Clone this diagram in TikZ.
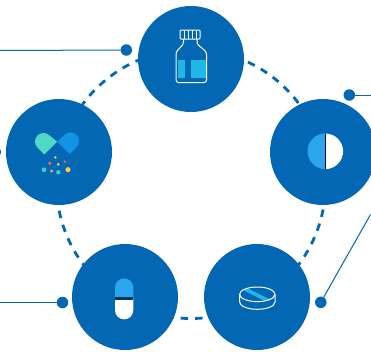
\documentclass[tikz,border=0pt]{standalone}
\definecolor{hub}{HTML}{0467B3}
\definecolor{sky}{HTML}{2AA5EE}
\definecolor{cyanfill}{HTML}{1FB8E6}
\definecolor{mint}{HTML}{4DD9C4}
\definecolor{heartblue}{HTML}{1493E6}
\definecolor{dotyellow}{HTML}{FFC94D}
\definecolor{dotred}{HTML}{F2664D}
\definecolor{dotteal}{HTML}{3CCFC0}
\tikzset{
  hubnode/.style={circle,fill=hub,minimum size=106pt,inner sep=0pt,outer sep=0pt},
  dotnode/.style={circle,fill=hub,minimum size=11.5pt,inner sep=0pt,outer sep=0pt},
  leader/.style={draw=hub,line width=1pt},
  ring/.style={draw=hub,line width=2.8pt,dash pattern=on 7.5pt off 7pt},
  icon/.style={draw=white,line width=1pt,line join=round},
}
\newcommand{\spk}[4]{\fill[#4] (#1,#2) circle (#3pt);}
\begin{document}
\begin{tikzpicture}[x=1pt,y=-1pt]
\useasboundingbox (0,0) rectangle (371,351);
\clip (0,0) rectangle (371,351);
\fill[white] (0,0) rectangle (371,351);
% ring
\draw[ring] (191,184) circle (134.5pt);
% hubs
\node[hubnode] (top) at (191,59) {};
\node[hubnode] (left) at (59,152) {};
\node[hubnode] (right) at (323,152) {};
\node[hubnode] (bl) at (125,297) {};
\node[hubnode] (br) at (257,297) {};
% dots and leaders
\node[dotnode] (d1) at (126.3,50) {};
\node[dotnode] (d2) at (349.3,95) {};
\node[dotnode] (d3) at (320.8,302.3) {};
\node[dotnode] (d4) at (62.5,302.5) {};
\node[dotnode] (d5) at (-4.8,152) {};
\coordinate (e1) at (-2,50.5);
\coordinate (e2) at (373,95);
\coordinate (e3) at (370.5,214.5);
\coordinate (e4) at (-2,302.5);
\draw[leader] (d1) -- (e1);
\draw[leader] (d2) -- (e2);
\draw[leader] (d3) -- (e3);
\draw[leader] (d4) -- (e4);
% bottle
\fill[cyanfill] (178,60) rectangle (185,77.7);
\fill[cyanfill] (191,60) rectangle (207,77.7);
\draw[icon,rounded corners=1pt] (180,30) rectangle (200,39);
\draw[icon] (184.3,30) -- (184.3,39) (188.3,30) -- (188.3,39) (192.3,30) -- (192.3,39) (196.3,30) -- (196.3,39);
\draw[icon,rounded corners=2.5pt] (183.5,39) -- (183.5,44) -- (176,52) -- (176,82.5) -- (206.5,82.5) -- (206.5,52) -- (197,44) -- (197,39);
% heart
\fill[mint] (57.3,141.7) -- (44.3,154.5) -- (37.5,147.7) arc[start angle=225,end angle=45,radius=8.6pt] -- cycle;
\fill[heartblue] (57.3,141.7) -- (69.7,154.2) -- (76.6,147.2) arc[start angle=-45,end angle=135,radius=8.7pt] -- cycle;
\spk{55.4}{157.3}{1.4}{dotyellow}
\spk{49.7}{163.3}{1.9}{dotred}
\spk{58.3}{164.3}{1.5}{dotyellow}
\spk{65}{161.7}{1.4}{dotred}
\spk{44}{169.7}{2.4}{dotteal}
\spk{51.6}{171}{1.5}{dotyellow}
\spk{58.3}{172.3}{2.2}{dotteal}
\spk{68}{169.7}{2.6}{dotyellow}
% half disc
\fill[sky] (325.3,133.5) arc[start angle=90,end angle=270,radius=17.8pt] -- cycle;
\fill[white] (325.3,133.5) arc[start angle=90,end angle=-90,radius=17.8pt] -- cycle;
\draw[color=black!75!blue,line width=1pt] (325.3,133.5) -- (325.3,169.1);
% tablet
\begin{scope}
\clip (257.3,294.3) ellipse (17.7pt and 7.3pt);
\draw[cyanfill,line width=3.6pt] (245,289) -- (269,301);
\end{scope}
\draw[icon] (257.3,294.3) ellipse (17.7pt and 7.3pt);
\draw[icon] (239.6,294.3) -- (239.6,302) arc[start angle=180,end angle=360,x radius=17.7pt,y radius=7.3pt] -- (275,294.3);
% capsule
\fill[sky] (115,298) -- (115,287.5) arc[start angle=180,end angle=0,radius=9.15pt] -- (133.3,298) -- cycle;
\fill[white] (115,298) -- (115,310.2) arc[start angle=180,end angle=360,radius=9.15pt] -- (133.3,298) -- cycle;
\fill[color=hub!55!black] (115,297) rectangle (133.3,299.6);
\end{tikzpicture}
\end{document}
